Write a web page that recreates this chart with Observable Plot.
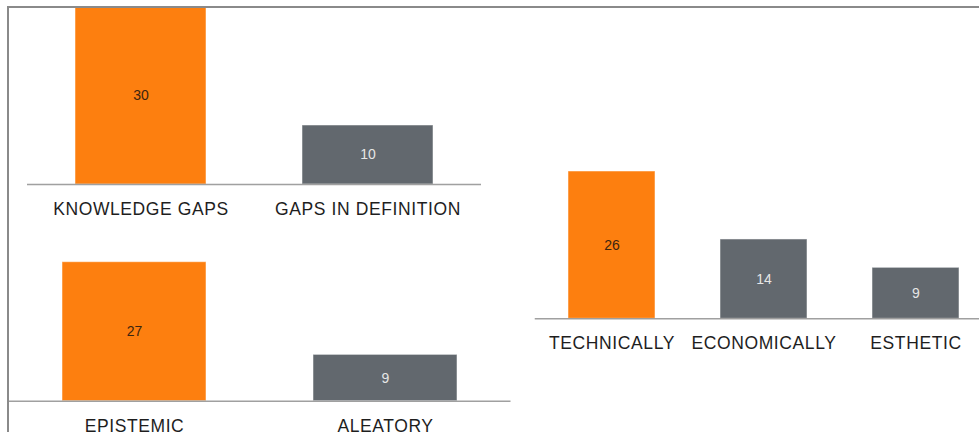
<!DOCTYPE html>
<html>
<head>
<meta charset="utf-8">
<script src="https://cdn.jsdelivr.net/npm/d3@7"></script>
<script src="https://cdn.jsdelivr.net/npm/@observablehq/plot@0.6"></script>
<style>
  html, body { margin: 0; padding: 0; background: #fff; overflow: hidden; }
  #chart { position: relative; width: 979px; height: 432px; overflow: hidden; }
  #frame {
    position: absolute; left: 7px; top: 6px; right: -10px; bottom: -10px;
    border-top: 2px solid #8a8a8a; border-left: 2px solid #8a8a8a;
    pointer-events: none; z-index: 2;
  }
  .panel { position: absolute; }
  .panel svg { max-width: none; display: block; }
  .panel svg g[aria-label="x-axis tick label"] text { letter-spacing: 0.6px; }
</style>
</head>
<body>
<div id="chart"><div id="frame"></div></div>
<script>
// Sources of uncertainty
const gapCategories = ["KNOWLEDGE GAPS", "GAPS IN DEFINITION"];
const gapCounts = [30, 10];

// Type of uncertainty
const uncertaintyCategories = ["EPISTEMIC", "ALEATORY"];
const uncertaintyCounts = [27, 9];

// Feasibility aspects
const feasibilityCategories = ["TECHNICALLY", "ECONOMICALLY", "ESTHETIC"];
const feasibilityCounts = [26, 14, 9];

const ORANGE = "#fd7f0f";
const GRAY = "#62686e";
const FONT = "'Liberation Sans', Arial, Helvetica, sans-serif";

function barPanel({categories, counts, left, top, width, height, margins}) {
  const rows = categories.map((category, i) => ({category, count: counts[i], lead: i === 0}));
  const plot = Plot.plot({
    width,
    height,
    ...margins,
    style: {fontFamily: FONT, background: "transparent", overflow: "visible"},
    x: {domain: categories, paddingInner: 0.425, paddingOuter: 0.2125, label: null},
    y: {domain: [0, d3.max(counts)], axis: null},
    marks: [
      Plot.barY(rows, {
        x: "category",
        y: "count",
        fill: d => d.lead ? ORANGE : GRAY,
        stroke: "#ffffff",
        strokeOpacity: 0.5,
        strokeWidth: 1
      }),
      Plot.ruleY([0], {stroke: "#8f8f8f", strokeWidth: 1.5, strokeOpacity: 0.85}),
      Plot.text(rows, {
        x: "category",
        y: d => d.count / 2,
        text: d => String(d.count),
        fill: d => d.lead ? "#3b2510" : "#e6e6e6",
        fontSize: 14
      }),
      Plot.axisX({tickSize: 0, tickPadding: 18, fontSize: 17.5, color: "#1e1e1e", label: null})
    ]
  });
  const holder = document.createElement("div");
  holder.className = "panel";
  holder.style.left = left + "px";
  holder.style.top = top + "px";
  holder.appendChild(plot);
  document.getElementById("chart").appendChild(holder);
}

barPanel({
  categories: gapCategories, counts: gapCounts,
  left: 0, top: 0, width: 490, height: 230,
  margins: {marginLeft: 27, marginRight: 9, marginTop: 7, marginBottom: 46}
});

barPanel({
  categories: uncertaintyCategories, counts: uncertaintyCounts,
  left: 0, top: 230, width: 520, height: 202,
  margins: {marginLeft: 8.5, marginRight: 9.5, marginTop: 31.7, marginBottom: 31.3}
});

barPanel({
  categories: feasibilityCategories, counts: feasibilityCounts,
  left: 520, top: 100, width: 480, height: 270,
  margins: {marginLeft: 14.75, marginRight: 8, marginTop: 71, marginBottom: 51.7}
});
</script>
</body>
</html>
